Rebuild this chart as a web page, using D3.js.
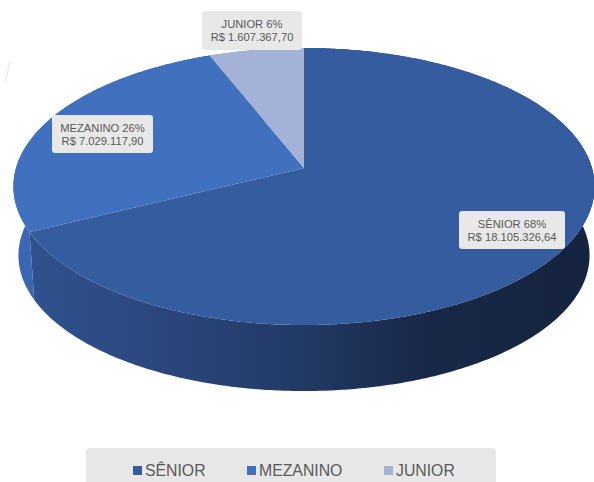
<!DOCTYPE html>
<html><head><meta charset="utf-8">
<script src="https://cdnjs.cloudflare.com/ajax/libs/d3/7.8.5/d3.min.js"></script>
<style>html,body{margin:0;padding:0;background:#fff}svg{display:block}text{font-family:"Liberation Sans",Arial,sans-serif}</style>
</head><body><svg id="c" width="594" height="482"></svg>
<script>
const categories = ["SÊNIOR", "MEZANINO", "JUNIOR"];
const values = [18105326.64, 7029117.90, 1607367.70];
const percents = ["68%", "26%", "6%"];
const moneyLabels = ["R$ 18.105.326,64", "R$ 7.029.117,90", "R$ 1.607.367,70"];
const colors = ["#355c9f", "#4170bf", "#a5b2d7"];
const sideColors = ["url(#sideGrad)", "#3b67b2", "#8d9bc4"];

const svg = d3.select("#c");
const c = -0.1336;
// Perspective: unit-circle pie projected on the page
const topFace = {cx: 304, a: 113.6, b: 168, A: 288};
const baseFace = {cx: 304, a: 101.5, b: 237.3, A: 283};
function proj(f, ang) {
  const u = Math.sin(ang), v = -Math.cos(ang), d = 1 + c * v;
  return [f.cx + f.A * u / d, (f.a * v + f.b) / d];
}
const arcs = d3.pie().sort(null).value(d => d)(values);
const line = d3.line();
function rim(f, a0, a1) {
  const n = Math.max(2, Math.ceil((a1 - a0) / 0.01));
  return d3.range(n + 1).map(i => proj(f, a0 + (a1 - a0) * i / n));
}

const defs = svg.append("defs");
const g = defs.append("linearGradient").attr("id", "sideGrad")
  .attr("gradientUnits", "userSpaceOnUse").attr("x1", 20).attr("x2", 590).attr("y1", 0).attr("y2", 0);
[[0, "#30528f"], [0.18, "#2c4a83"], [0.49, "#223a66"], [0.72, "#182847"], [1, "#15233e"]]
  .forEach(s => g.append("stop").attr("offset", s[0]).attr("stop-color", s[1]));

// Faint scratch mark at the upper left of the picture
svg.append("line").attr("x1", 10).attr("y1", 61).attr("x2", 5).attr("y2", 83)
  .attr("stroke", "#f0f0f0").attr("stroke-width", 2);

// Side wall
svg.selectAll("path.side").data(arcs).join("path").attr("class", "side")
  .attr("d", d => line(rim(topFace, d.startAngle, d.endAngle).concat(rim(baseFace, d.startAngle, d.endAngle).reverse())) + "Z")
  .attr("fill", (d, i) => sideColors[i]);

// Top face
svg.selectAll("path.top").data(arcs).join("path").attr("class", "top")
  .attr("d", d => line([[topFace.cx, topFace.b]].concat(rim(topFace, d.startAngle, d.endAngle))) + "Z")
  .attr("fill", (d, i) => colors[i]);

// Data labels
const labelBoxes = [{x: 459, y: 211, w: 106, h: 38}, {x: 52, y: 115, w: 101, h: 38}, {x: 202, y: 11, w: 100, h: 39}];
categories.forEach((cat, i) => {
  const b = labelBoxes[i];
  svg.append("rect").attr("x", b.x).attr("y", b.y).attr("width", b.w).attr("height", b.h)
    .attr("rx", 3).attr("fill", "#e8e8e8");
  const t = svg.append("text").attr("text-anchor", "middle").attr("fill", "#595959").attr("font-size", 11.2);
  t.append("tspan").attr("x", b.x + b.w / 2).attr("y", b.y + 17).text(cat + " " + percents[i]);
  t.append("tspan").attr("x", b.x + b.w / 2).attr("y", b.y + 30).text(moneyLabels[i]);
});

// Legend
svg.append("rect").attr("x", 86).attr("y", 448).attr("width", 410).attr("height", 40).attr("rx", 4).attr("fill", "#e7e7e7");
const legendX = d3.scaleOrdinal().domain(categories).range([133, 247, 384]);
categories.forEach((cat, i) => {
  svg.append("rect").attr("x", legendX(cat)).attr("y", 466).attr("width", 9).attr("height", 9).attr("fill", colors[i]);
  svg.append("text").attr("x", legendX(cat) + 12).attr("y", 476).attr("font-size", 15.8).attr("fill", "#595959").text(cat);
});
</script></body></html>
